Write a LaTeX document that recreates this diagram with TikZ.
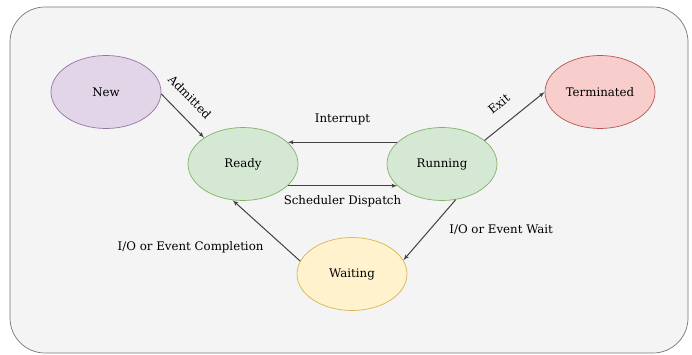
\documentclass[tikz,border=0pt]{standalone}
\usepackage{fontspec}
\setmainfont{DejaVu Serif}
\usetikzlibrary{shapes.geometric, arrows}

\definecolor{bgfill}{HTML}{F4F4F4}
\definecolor{bgline}{HTML}{777777}
\definecolor{newfill}{HTML}{E1D5E7}
\definecolor{newline}{HTML}{9673A6}
\definecolor{okfill}{HTML}{D5E8D4}
\definecolor{okline}{HTML}{82B366}
\definecolor{endfill}{HTML}{F8CECC}
\definecolor{endline}{HTML}{B85450}
\definecolor{waitfill}{HTML}{FFF2CC}
\definecolor{waitline}{HTML}{D6B656}

\begin{document}
\begin{tikzpicture}[x=1pt, y=-1pt, font=\fontsize{11.8}{14}\selectfont]

\tikzset{state/.style = {shape=ellipse, draw, line width=0.7pt, minimum width=110pt, minimum height=73pt}}
\tikzset{edge/.style = {->, > = latex', draw=black!75, line width=1pt}}
\useasboundingbox (0,0) rectangle (692,355);
%frame
\draw[bgline, fill=bgfill, rounded corners=35pt, line width=0.7pt] (10,7) rectangle (688,353);
%states
\node[state, fill=newfill, draw=newline] (new) at (106,92) {New};
\node[state, fill=okfill, draw=okline] (ready) at (243,164) {Ready};
\node[state, fill=okfill, draw=okline] (running) at (442,164) {Running};
\node[state, fill=endfill, draw=endline] (term) at (600,92) {Terminated};
\node[state, fill=waitfill, draw=waitline] (wait) at (352,274) {Waiting};
%transitions
\draw [edge] (new.-2) -- (ready.146) node [pos=0.36, sloped, above=10pt] {Admitted};
\draw [edge] (running.154) -- (ready.26) node [midway, above=13pt] {Interrupt};
\draw [edge] (ready.-26) -- (running.206) node [midway, below=6pt] {Scheduler Dispatch};
\draw [edge] (running.29) -- (term.west) node [pos=0.44, sloped, above=11pt] {Exit};
\draw [edge] (running.-69) -- (wait.15) node [pos=0.5, right=16pt] {I/O or Event Wait};
\draw [edge] (wait.166) -- (ready.254) node [pos=0.22, left=18pt] {I/O or Event Completion};

\end{tikzpicture}
\end{document}
